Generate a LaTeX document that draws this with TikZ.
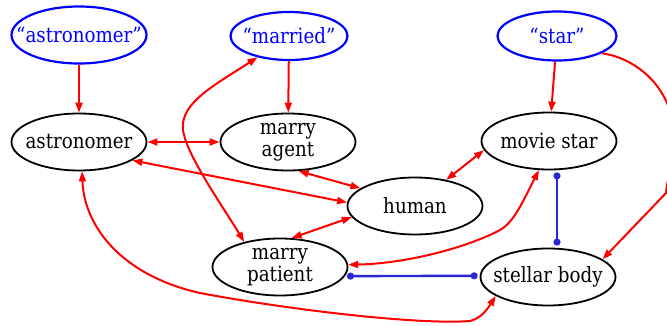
\documentclass[tikz,border=0pt]{standalone}
\usepackage{fontspec}
\setmainfont{DejaVu Serif}[FakeStretch=0.87]
\usetikzlibrary{shapes.geometric,arrows.meta}
\definecolor{linkblue}{RGB}{40,40,215}
\begin{document}
\begin{tikzpicture}[x=1pt,y=-1pt,
  every node/.style={font=\fontsize{21}{22}\selectfont},
  ell/.style={ellipse,draw=black,line width=1.8pt,inner sep=0pt,
              minimum width=135pt,minimum height=57pt,
              label={[align=center,inner sep=0pt]center:#1}},
  word/.style={ellipse,draw=blue,line width=2.2pt,inner sep=0pt,
              label={[text=blue,inner sep=0pt]center:#1}},
  rel/.style={draw=red,line width=2pt,-{Triangle[length=10pt,width=7pt]}},
  rel2/.style={rel,{Triangle[length=10pt,width=7pt]}-{Triangle[length=10pt,width=7pt]}},
  link/.style={draw=linkblue,line width=2.4pt,{Circle[length=7pt]}-{Circle[length=7pt]},
               shorten <=2pt,shorten >=2pt}]
\useasboundingbox (0,0) rectangle (667,326);
\clip (0,0) rectangle (667,326);

\node[word={“astronomer”},minimum width=135pt,minimum height=57pt] (qastro) at (79,35) {};
\node[word={“married”},minimum width=117pt,minimum height=48pt] (qmarried) at (289,36) {};
\node[word={“star”},minimum width=119pt,minimum height=49pt] (qstar) at (557,36) {};

\node[ell={astronomer}] (astro) at (79,142) {};
\node[ell={marry\\agent}] (agent) at (288,142) {};
\node[ell={movie star}] (movie) at (549,141) {};
\node[ell={human}] (human) at (415,206) {};
\node[ell={marry\\patient}] (patient) at (280,267) {};
\node[ell={stellar body}] (stellar) at (548,277) {};

\draw[rel] (qastro) -- (astro);
\draw[rel] (qmarried) -- (agent);
\draw[rel] (qstar) -- (movie);
\draw[rel] (qstar.-21) .. controls (635,58) and (668,85) .. (673,125)
  .. controls (676,150) and (667,180) .. (666,193) -- (stellar.18);

\draw[rel2] (astro) -- (agent);
\draw[rel2] (astro.-19) -- (human.177);
\draw[rel2] (agent.-70) -- (human.162);
\draw[rel2] (patient.68) -- (human.-170);
\draw[rel2] (human.40) -- (movie.-172);
\draw[rel2] (qmarried.-146) .. controls (215,85) and (175,105) .. (184,135)
  .. controls (190,160) and (225,210) .. (patient.145);
\draw[rel2] (movie.-109) .. controls (522,203) and (514,222) .. (500,230)
  .. controls (462,250) and (400,264) .. (patient.2);
\draw[rel2] (astro.-84) .. controls (84,225) and (120,275) .. (200,293)
  .. controls (290,310) and (420,325) .. (470,321)
  .. controls (482,318) and (488,308) .. (stellar.-160);

\draw[link] ([xshift=8pt]movie.south) -- ([xshift=9pt]stellar.north);
\draw[link] (patient.-8) -- (stellar.179);
\end{tikzpicture}
\end{document}
